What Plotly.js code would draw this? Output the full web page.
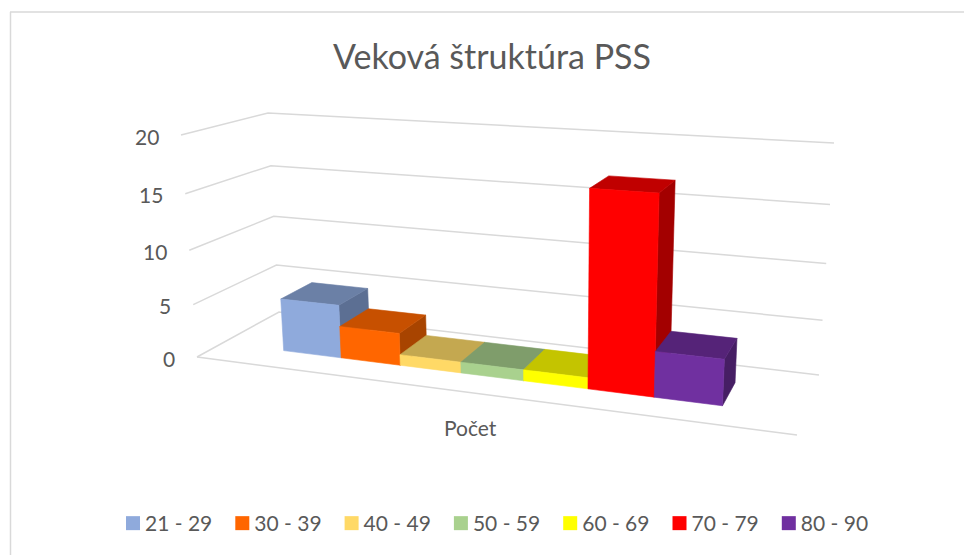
<!DOCTYPE html>
<html><head><meta charset="utf-8">
<script src="https://cdn.plot.ly/plotly-3.0.1.min.js"></script>
<style>html,body{margin:0;padding:0;background:#fff}</style></head>
<body><div id="chart" style="width:964px;height:555px"></div>
<script>
const categories = ["21 - 29","30 - 39","40 - 49","50 - 59","60 - 69","70 - 79","80 - 90"];
const values = [5,3,1,1,1,17,4];
const frontColors = ["#8FAADC","#FF6600","#FFD966","#A9D18E","#FFFF00","#FF0000","#7030A0"];
const topColors = ["#6B80A6","#C75000","#C4A850","#7F9D6B","#C4C400","#C00000","#552378"];
const sideColors = ["#5C6F93","#A84400","#A88F44","#6C865B","#A8A800","#A30000","#461E64"];
const levels = [0,5,10,15,20];
const axisMax = 20;
const xLabel = "Počet";
const chartTitle = "Veková štruktúra PSS";

// Perspective frame of the 3D box, in page pixels: [front-left, front-right, back-right, back-left]
const floorQuad = [[197,357],[797,435],[819,375],[279,312]];
const ceilQuad  = [[181,135],[813,173],[834,143],[268,113]];
const heightBow = 1.08;
const uStart = 0.118, uEnd = 0.875, vFront = 0.29, vBack = 0.69;

function homography(q){
  const [[x0,y0],[x1,y1],[x2,y2],[x3,y3]] = q;
  const dx1=x1-x2, dx2=x3-x2, sx=x0-x1+x2-x3, dy1=y1-y2, dy2=y3-y2, sy=y0-y1+y2-y3;
  const den=dx1*dy2-dx2*dy1;
  const g=(sx*dy2-dx2*sy)/den, h=(dx1*sy-sx*dy1)/den;
  const a=x1-x0+g*x1, b=x3-x0+h*x3, d=y1-y0+g*y1, e=y3-y0+h*y3;
  return (u,v)=>{const w=g*u+h*v+1; return [(a*u+b*v+x0)/w,(d*u+e*v+y0)/w];};
}
const floorH = homography(floorQuad), ceilH = homography(ceilQuad);
function project(u,v,val){
  const t=val/axisMax, f=t===0?0:t/(t+(1-t)*heightBow);
  const p=floorH(u,v), q=ceilH(u,v);
  return [p[0]+(q[0]-p[0])*f, p[1]+(q[1]-p[1])*f];
}
function poly(pts,color){
  const c=pts.concat([pts[0]]);
  return {type:"scatter",mode:"lines",x:c.map(p=>p[0]),y:c.map(p=>p[1]),fill:"toself",fillcolor:color,
    line:{color:color,width:0.6},showlegend:false,hoverinfo:"skip"};
}
function gridLine(pts){
  return {type:"scatter",mode:"lines",x:pts.map(p=>p[0]),y:pts.map(p=>p[1]),
    line:{color:"#D9D9D9",width:1.5},showlegend:false,hoverinfo:"skip"};
}
const traces=[];
levels.forEach(l=>traces.push(gridLine([project(0,0,l),project(0,1,l),project(1,1,l)])));
traces.push(gridLine([project(0,0,0),project(1,0,0)]));

const bw=(uEnd-uStart)/values.length;
values.forEach((val,i)=>{
  const a=uStart+i*bw, b=a+bw;
  traces.push(poly([project(b,vFront,0),project(b,vBack,0),project(b,vBack,val),project(b,vFront,val)],sideColors[i]));
  traces.push(poly([project(a,vFront,val),project(b,vFront,val),project(b,vBack,val),project(a,vBack,val)],topColors[i]));
  traces.push(poly([project(a,vFront,0),project(b,vFront,0),project(b,vFront,val),project(a,vFront,val)],frontColors[i]));
});
categories.forEach((c,i)=>traces.push({type:"scatter",mode:"markers",name:c,x:[-100],y:[-100],
  marker:{symbol:"square",size:14,color:frontColors[i]},hoverinfo:"skip"}));

const ink="#595959", fontFam="Lato, Carlito, sans-serif";
const annotations=levels.map(l=>{
  const p=project(0,0,l);
  return {x:p[0]-20.5,y:p[1]+1,xref:"x",yref:"y",text:String(l),showarrow:false,xanchor:"right",yanchor:"middle",
    font:{family:fontFam,size:21,color:ink}};
});
annotations.push({x:470,y:427,xref:"x",yref:"y",text:xLabel,showarrow:false,xanchor:"center",yanchor:"middle",
  font:{family:fontFam,size:21,color:ink}});

const layout={
  width:964,height:555,margin:{l:0,r:0,t:0,b:0,autoexpand:false},paper_bgcolor:"#fff",plot_bgcolor:"#fff",
  title:{text:chartTitle,x:492/964,xanchor:"center",y:1-57/555,yanchor:"middle",font:{family:fontFam,size:34,color:ink}},
  xaxis:{range:[0,964],visible:false,fixedrange:true},
  yaxis:{range:[555,0],visible:false,fixedrange:true},
  legend:{orientation:"h",x:105/964,xanchor:"left",y:1-503/555,yanchor:"top",entrywidth:64.3,entrywidthmode:"pixels",
    itemwidth:30,font:{family:fontFam,size:21,color:ink},bgcolor:"rgba(0,0,0,0)",traceorder:"normal"},
  annotations,
  shapes:[
    {type:"line",xref:"x",yref:"y",x0:10.5,x1:10.5,y0:12,y1:555,line:{color:"#D9D9D9",width:1.5}},
    {type:"line",xref:"x",yref:"y",x0:10,x1:964,y0:12,y1:12,line:{color:"#D9D9D9",width:1.5}}
  ]
};
Plotly.newPlot("chart",traces,layout,{displayModeBar:false,staticPlot:true}).then(()=>{
  // bring each legend swatch next to its label, as in the reference
  document.querySelectorAll("#chart .legend .legendsymbols").forEach(g=>g.setAttribute("transform","translate(8,0)"));
});
</script></body></html>
